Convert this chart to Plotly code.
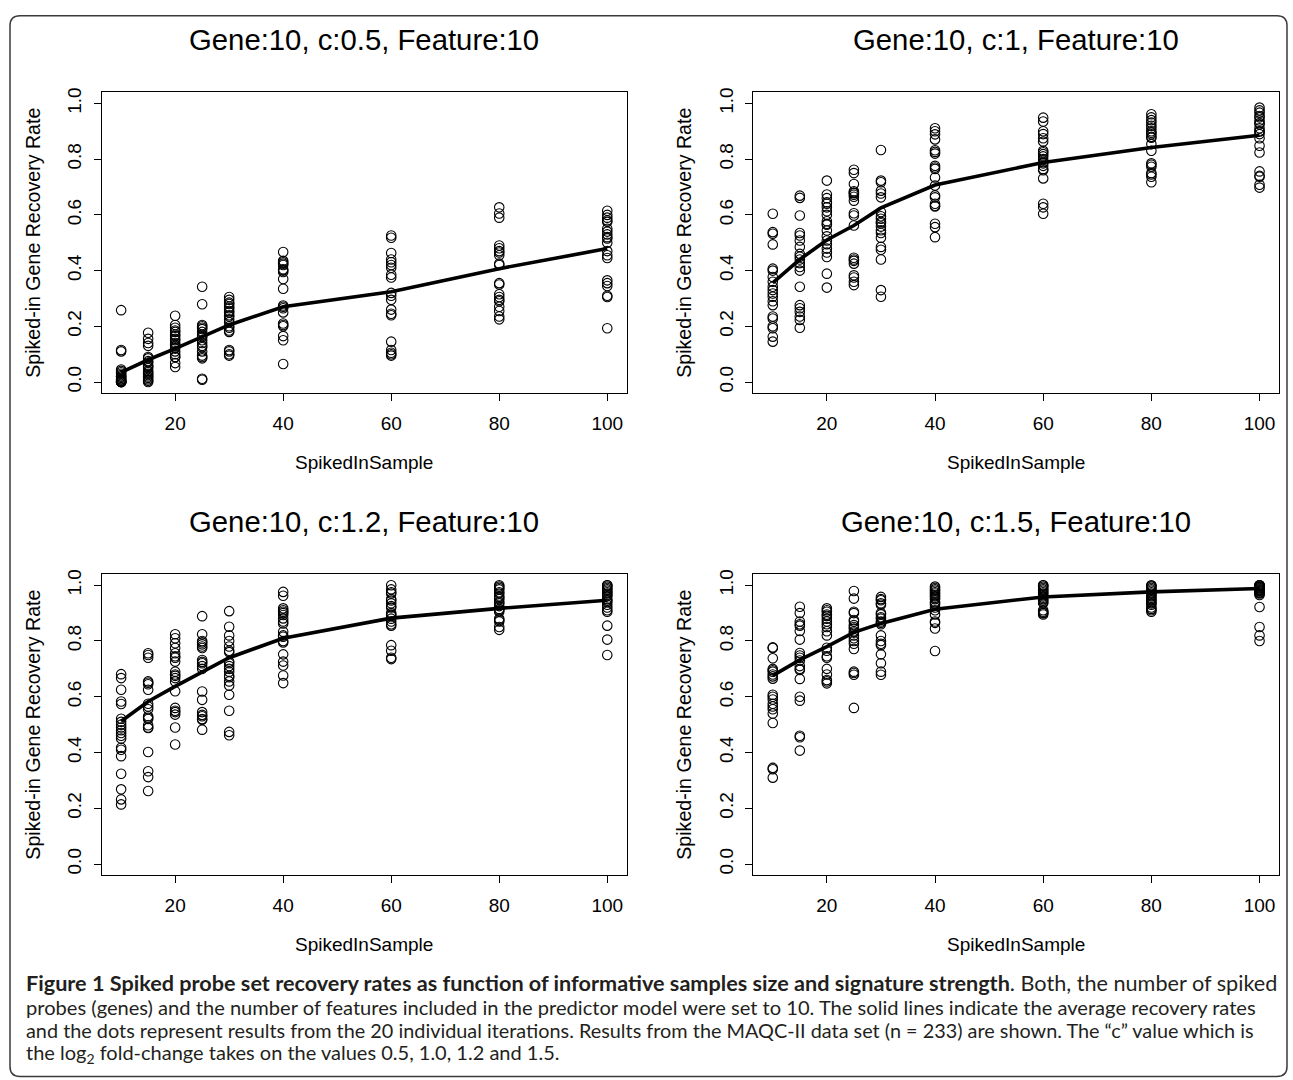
import plotly.graph_objects as go

# ---------------- data ----------------
samples = [10, 15, 20, 25, 30, 40, 60, 80, 100]

panel_titles = [
    "Gene:10, c:0.5, Feature:10",
    "Gene:10, c:1, Feature:10",
    "Gene:10, c:1.2, Feature:10",
    "Gene:10, c:1.5, Feature:10",
]

# individual iterations (20 per sample size), c = 0.5
c05_points = [
    [0.258, 0.115, 0.11, 0.045, 0.04, 0.035, 0.03, 0.025, 0.02, 0.02, 0.015, 0.01, 0.01, 0.005, 0.005, 0.0, 0.0, 0.0, 0.0, 0.0],
    [0.177, 0.155, 0.14, 0.13, 0.09, 0.085, 0.075, 0.07, 0.06, 0.055, 0.05, 0.04, 0.035, 0.03, 0.025, 0.02, 0.015, 0.01, 0.005, 0.0],
    [0.238, 0.205, 0.195, 0.185, 0.18, 0.17, 0.165, 0.155, 0.15, 0.14, 0.135, 0.13, 0.125, 0.12, 0.11, 0.1, 0.09, 0.09, 0.068, 0.054],
    [0.342, 0.279, 0.205, 0.2, 0.195, 0.19, 0.18, 0.17, 0.165, 0.16, 0.15, 0.14, 0.13, 0.125, 0.11, 0.095, 0.09, 0.085, 0.012, 0.008],
    [0.305, 0.295, 0.285, 0.28, 0.27, 0.265, 0.255, 0.25, 0.24, 0.235, 0.225, 0.215, 0.2, 0.195, 0.185, 0.18, 0.115, 0.11, 0.1, 0.095],
    [0.467, 0.435, 0.43, 0.425, 0.42, 0.405, 0.4, 0.395, 0.37, 0.335, 0.275, 0.27, 0.265, 0.25, 0.21, 0.205, 0.2, 0.165, 0.15, 0.065],
    [0.526, 0.518, 0.463, 0.44, 0.43, 0.42, 0.41, 0.385, 0.375, 0.32, 0.31, 0.295, 0.26, 0.245, 0.24, 0.145, 0.115, 0.105, 0.1, 0.095],
    [0.627, 0.605, 0.59, 0.49, 0.48, 0.47, 0.465, 0.455, 0.425, 0.42, 0.355, 0.35, 0.315, 0.305, 0.295, 0.29, 0.27, 0.255, 0.235, 0.225],
    [0.615, 0.6, 0.59, 0.58, 0.575, 0.55, 0.54, 0.53, 0.52, 0.515, 0.5, 0.47, 0.455, 0.445, 0.365, 0.355, 0.345, 0.31, 0.305, 0.193],
]
c05_mean = [0.035, 0.08, 0.12, 0.163, 0.205, 0.27, 0.324, 0.407, 0.479]

# c = 1
c10_points = [
    [0.604, 0.538, 0.532, 0.494, 0.407, 0.4, 0.377, 0.36, 0.342, 0.33, 0.318, 0.306, 0.29, 0.276, 0.235, 0.228, 0.2, 0.193, 0.163, 0.145],
    [0.669, 0.661, 0.598, 0.535, 0.526, 0.508, 0.485, 0.46, 0.45, 0.44, 0.427, 0.413, 0.4, 0.342, 0.276, 0.265, 0.252, 0.235, 0.223, 0.195],
    [0.723, 0.673, 0.66, 0.645, 0.64, 0.627, 0.613, 0.6, 0.577, 0.568, 0.565, 0.544, 0.523, 0.508, 0.495, 0.479, 0.465, 0.449, 0.389, 0.339],
    [0.762, 0.75, 0.711, 0.685, 0.68, 0.678, 0.672, 0.665, 0.651, 0.606, 0.598, 0.562, 0.446, 0.44, 0.435, 0.425, 0.383, 0.375, 0.36, 0.348],
    [0.833, 0.723, 0.717, 0.687, 0.677, 0.663, 0.61, 0.595, 0.586, 0.575, 0.57, 0.558, 0.545, 0.535, 0.518, 0.485, 0.475, 0.44, 0.33, 0.306],
    [0.911, 0.9, 0.889, 0.871, 0.832, 0.826, 0.82, 0.776, 0.77, 0.765, 0.734, 0.705, 0.67, 0.663, 0.64, 0.633, 0.63, 0.568, 0.556, 0.52],
    [0.949, 0.935, 0.9, 0.89, 0.875, 0.863, 0.83, 0.825, 0.818, 0.81, 0.8, 0.79, 0.785, 0.776, 0.765, 0.76, 0.731, 0.64, 0.627, 0.604],
    [0.961, 0.95, 0.94, 0.931, 0.92, 0.911, 0.9, 0.895, 0.889, 0.88, 0.877, 0.854, 0.83, 0.785, 0.78, 0.773, 0.75, 0.745, 0.737, 0.717],
    [0.985, 0.975, 0.967, 0.955, 0.95, 0.939, 0.93, 0.925, 0.911, 0.9, 0.899, 0.89, 0.875, 0.848, 0.824, 0.756, 0.74, 0.737, 0.708, 0.698],
]
c10_mean = [0.356, 0.44, 0.51, 0.562, 0.625, 0.707, 0.788, 0.842, 0.886]

# c = 1.2
c12_points = [
    [0.681, 0.667, 0.625, 0.583, 0.574, 0.521, 0.51, 0.5, 0.49, 0.48, 0.47, 0.46, 0.45, 0.417, 0.41, 0.387, 0.324, 0.268, 0.232, 0.214],
    [0.756, 0.75, 0.74, 0.655, 0.65, 0.645, 0.625, 0.575, 0.565, 0.555, 0.53, 0.525, 0.52, 0.498, 0.49, 0.488, 0.402, 0.333, 0.312, 0.262],
    [0.824, 0.81, 0.792, 0.775, 0.756, 0.745, 0.74, 0.726, 0.69, 0.68, 0.675, 0.667, 0.655, 0.62, 0.56, 0.55, 0.545, 0.536, 0.49, 0.429],
    [0.889, 0.824, 0.8, 0.795, 0.788, 0.78, 0.775, 0.732, 0.725, 0.72, 0.71, 0.7, 0.619, 0.589, 0.545, 0.535, 0.53, 0.52, 0.518, 0.482],
    [0.907, 0.851, 0.82, 0.8, 0.78, 0.765, 0.76, 0.726, 0.72, 0.71, 0.7, 0.69, 0.675, 0.67, 0.655, 0.64, 0.607, 0.55, 0.474, 0.462],
    [0.976, 0.962, 0.917, 0.91, 0.905, 0.9, 0.893, 0.881, 0.87, 0.863, 0.833, 0.82, 0.815, 0.8, 0.795, 0.752, 0.726, 0.712, 0.676, 0.649],
    [1.0, 0.985, 0.975, 0.97, 0.95, 0.945, 0.935, 0.925, 0.92, 0.9, 0.895, 0.89, 0.88, 0.87, 0.86, 0.855, 0.785, 0.765, 0.74, 0.735],
    [1.0, 0.995, 0.99, 0.985, 0.975, 0.97, 0.96, 0.955, 0.95, 0.94, 0.935, 0.925, 0.915, 0.91, 0.905, 0.88, 0.875, 0.87, 0.85, 0.84],
    [1.0, 1.0, 0.995, 0.99, 0.985, 0.98, 0.975, 0.97, 0.965, 0.96, 0.95, 0.945, 0.94, 0.93, 0.92, 0.91, 0.905, 0.855, 0.805, 0.75],
]
c12_mean = [0.512, 0.583, 0.637, 0.69, 0.74, 0.81, 0.882, 0.917, 0.946]

# c = 1.5
c15_points = [
    [0.777, 0.775, 0.738, 0.7, 0.695, 0.69, 0.68, 0.673, 0.665, 0.607, 0.6, 0.59, 0.575, 0.565, 0.555, 0.54, 0.506, 0.345, 0.34, 0.31],
    [0.923, 0.9, 0.87, 0.86, 0.855, 0.836, 0.805, 0.757, 0.748, 0.74, 0.73, 0.71, 0.7, 0.696, 0.664, 0.6, 0.586, 0.46, 0.455, 0.407],
    [0.917, 0.91, 0.905, 0.895, 0.89, 0.88, 0.87, 0.86, 0.85, 0.835, 0.82, 0.776, 0.765, 0.745, 0.74, 0.7, 0.68, 0.66, 0.655, 0.648],
    [0.979, 0.952, 0.905, 0.9, 0.875, 0.87, 0.857, 0.85, 0.845, 0.835, 0.83, 0.82, 0.81, 0.8, 0.79, 0.771, 0.69, 0.685, 0.679, 0.56],
    [0.958, 0.95, 0.946, 0.935, 0.93, 0.9, 0.895, 0.885, 0.88, 0.87, 0.865, 0.86, 0.82, 0.8, 0.79, 0.785, 0.752, 0.72, 0.69, 0.679],
    [0.995, 0.99, 0.985, 0.98, 0.975, 0.97, 0.965, 0.96, 0.955, 0.95, 0.94, 0.935, 0.93, 0.92, 0.91, 0.895, 0.87, 0.865, 0.845, 0.764],
    [1.0, 1.0, 0.995, 0.99, 0.985, 0.98, 0.975, 0.97, 0.965, 0.96, 0.955, 0.95, 0.945, 0.94, 0.935, 0.91, 0.905, 0.9, 0.9, 0.895],
    [1.0, 0.998, 0.995, 0.99, 0.985, 0.98, 0.975, 0.97, 0.965, 0.96, 0.955, 0.95, 0.945, 0.94, 0.935, 0.93, 0.92, 0.915, 0.91, 0.905],
    [1.0, 1.0, 1.0, 0.998, 0.995, 0.993, 0.99, 0.988, 0.985, 0.983, 0.98, 0.978, 0.975, 0.972, 0.97, 0.965, 0.922, 0.85, 0.82, 0.8],
]
c15_mean = [0.676, 0.732, 0.78, 0.831, 0.863, 0.914, 0.958, 0.976, 0.988]

x_ticks = [20, 40, 60, 80, 100]
y_ticks = [0.0, 0.2, 0.4, 0.6, 0.8, 1.0]
y_tick_labels = ["0.0", "0.2", "0.4", "0.6", "0.8", "1.0"]

caption_lines = [
    "<b>Figure 1 Spiked probe set recovery rates as function of informative samples size and signature strength</b>. Both, the number of spiked",
    "probes (genes) and the number of features included in the predictor model were set to 10. The solid lines indicate the average recovery rates",
    "and the dots represent results from the 20 individual iterations. Results from the MAQC-II data set (n = 233) are shown. The \u201cc\u201d value which is",
    "the log<sub>2</sub> fold-change takes on the values 0.5, 1.0, 1.2 and 1.5.",
]

# ---------------- layout geometry (pixels) ----------------
W, H = 1293, 1080
FONT = "Liberation Sans, Arial, Helvetica, sans-serif"
CAP_FONT = "Lato, Open Sans, sans-serif"

col_px = [(101.7, 626.7), (753.3, 1279.0)]
row_px = [(87.7, 390.0), (571.7, 874.3)]

def px_x(v):
    return v / W

def px_y(v):
    return 1 - v / H

panels = [
    (c05_points, c05_mean),
    (c10_points, c10_mean),
    (c12_points, c12_mean),
    (c15_points, c15_mean),
]

fig = go.Figure()
layout_axes = {}
annotations = []

for i, (pts, means) in enumerate(panels):
    r, c = divmod(i, 2)
    n = i + 1
    xa = "x" if n == 1 else f"x{n}"
    ya = "y" if n == 1 else f"y{n}"
    xs, ys = [], []
    for s, vals in zip(samples, pts):
        xs.extend([s] * len(vals))
        ys.extend(vals)
    fig.add_trace(go.Scatter(
        x=xs, y=ys, mode="markers", xaxis=xa, yaxis=ya, showlegend=False,
        marker=dict(symbol="circle-open", size=9.5, color="black", line=dict(width=1.1, color="black")),
        hoverinfo="skip",
    ))
    fig.add_trace(go.Scatter(
        x=samples, y=means, mode="lines", xaxis=xa, yaxis=ya, showlegend=False,
        line=dict(color="black", width=3.6), hoverinfo="skip",
    ))
    x0, x1 = col_px[c]
    y0, y1 = row_px[r]
    xkey = "xaxis" if n == 1 else f"xaxis{n}"
    ykey = "yaxis" if n == 1 else f"yaxis{n}"
    layout_axes[xkey] = dict(
        domain=[px_x(x0), px_x(x1)], anchor=ya, range=[6.4, 103.6],
        tickmode="array", tickvals=x_ticks, ticks="outside", ticklen=7, tickwidth=1,
        tickcolor="black", showline=True, linecolor="black", linewidth=1, mirror=True,
        showgrid=False, zeroline=False, tickfont=dict(family=FONT, size=19, color="black"),
        ticklabelstandoff=6,
        title=dict(text="SpikedInSample", font=dict(family=FONT, size=19, color="black"), standoff=22),
    )
    layout_axes[ykey] = dict(
        domain=[px_y(y1), px_y(y0)], anchor=xa, range=[-0.04, 1.04],
        tickmode="array", tickvals=y_ticks, ticktext=y_tick_labels, ticks="outside", ticklen=7,
        tickwidth=1, tickcolor="black", showline=True, linecolor="black", linewidth=1, mirror=True,
        showgrid=False, zeroline=False, tickangle=-90,
        tickfont=dict(family=FONT, size=19, color="black"), ticklabelstandoff=5,
        title=dict(text="Spiked-in Gene Recovery Rate", font=dict(family=FONT, size=19.6, color="black"), standoff=18),
    )
    title_y = 34.3 if r == 0 else 519.3
    annotations.append(dict(
        text=panel_titles[i], x=px_x((x0 + x1) / 2), y=px_y(title_y), xref="paper", yref="paper",
        xanchor="center", yanchor="middle", showarrow=False,
        font=dict(family=FONT, size=29.3, color="black"),
    ))

caption_y = [983, 1006.5, 1030, 1053.5]
caption_size = [21.65, 20.1, 19.85, 20]
for line, cy, fs in zip(caption_lines, caption_y, caption_size):
    annotations.append(dict(
        text=line, x=px_x(24), y=px_y(cy), xref="paper", yref="paper",
        xanchor="left", yanchor="middle", showarrow=False,
        font=dict(family=CAP_FONT, size=fs, color="#231f20"),
    ))

# rounded frame
fl, ft, fr, fb, rad = 10, 10.7, 1287, 1076.5, 10
def P(x, y):
    return f"{px_x(x):.6f},{px_y(y):.6f}"
frame_path = (
    f"M {P(fl + rad, ft)} L {P(fr - rad, ft)} Q {P(fr, ft)} {P(fr, ft + rad)} "
    f"L {P(fr, fb - rad)} Q {P(fr, fb)} {P(fr - rad, fb)} "
    f"L {P(fl + rad, fb)} Q {P(fl, fb)} {P(fl, fb - rad)} "
    f"L {P(fl, ft + rad)} Q {P(fl, ft)} {P(fl + rad, ft)} Z"
)

fig.update_layout(
    width=W, height=H, margin=dict(l=0, r=0, t=0, b=0),
    paper_bgcolor="white", plot_bgcolor="white",
    annotations=annotations,
    shapes=[dict(type="path", path=frame_path, xref="paper", yref="paper",
                 line=dict(color="#3a3a3a", width=1.5), layer="below")],
    **layout_axes,
)

fig.write_html("out.html", config={"displayModeBar": False},
               post_script="document.body.style.margin='0';")
